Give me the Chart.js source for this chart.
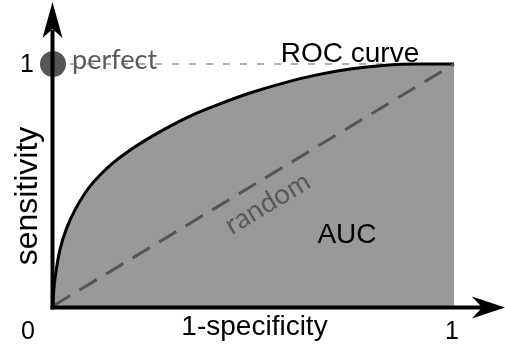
<!DOCTYPE html>
<html>
<head>
<meta charset="utf-8">
<script src="https://cdn.jsdelivr.net/npm/chart.js@4.4.1/dist/chart.umd.min.js"></script>
<style>
html,body{margin:0;padding:0;background:#fff;}
#wrap{width:505px;height:352px;position:relative;}
</style>
</head>
<body>
<div id="wrap"><canvas id="c"></canvas></div>
<script>
// ROC curve (x = 1-specificity, y = sensitivity)
const rocX = [0, 0.002, 0.007, 0.017, 0.035, 0.08, 0.135, 0.2, 0.274, 0.342, 0.416, 0.491, 0.574, 0.658, 0.741, 0.823, 0.908, 1.0];
const rocY = [0, 0.066, 0.136, 0.231, 0.326, 0.467, 0.570, 0.653, 0.727, 0.785, 0.835, 0.880, 0.921, 0.955, 0.979, 0.994, 1.0, 1.0];
// random classifier diagonal
const randomX = [0, 1];
const randomY = [0, 1];
// perfect classifier point and its guide line
const perfectX = [0, 1];
const perfectY = [1, 1];
// tick labels and axis titles
const xTickValues = [0, 1];
const xTickLabels = ["0", "1"];
const yTickValues = [1];
const yTickLabels = ["1"];
const xTitle = "1-specificity";
const yTitle = "sensitivity";
const curveLabel = "ROC curve";
const areaLabel = "AUC";
const randomLabel = "random";
const perfectLabel = "perfect";

const toPts = (xs, ys) => xs.map((x, i) => ({x: x, y: ys[i]}));

const annot = {
  id: 'annot',
  afterDatasetsDraw(chart) {
    const ctx = chart.ctx;
    const xs = chart.scales.x, ys = chart.scales.y;
    const x0 = xs.getPixelForValue(0), y0 = ys.getPixelForValue(0);
    const x1 = xs.getPixelForValue(1), y1 = ys.getPixelForValue(1);
    ctx.save();
    // axes
    ctx.strokeStyle = '#000';
    ctx.fillStyle = '#000';
    ctx.lineWidth = 4;
    ctx.lineCap = 'butt';
    const ax = x0 - 0.5, ay = y0 + 1.5;
    ctx.beginPath();
    ctx.moveTo(ax, ay + 2);
    ctx.lineTo(ax, 30);
    ctx.stroke();
    ctx.beginPath();
    ctx.moveTo(ax - 2, ay);
    ctx.lineTo(483, ay);
    ctx.stroke();
    // y arrowhead
    ctx.beginPath();
    ctx.moveTo(ax, 2);
    ctx.lineTo(ax + 10, 38);
    ctx.lineTo(ax, 29);
    ctx.lineTo(ax - 10, 38);
    ctx.closePath();
    ctx.fill();
    // x arrowhead
    ctx.beginPath();
    ctx.moveTo(505, ay);
    ctx.lineTo(472, ay - 11);
    ctx.lineTo(482, ay);
    ctx.lineTo(472, ay + 11);
    ctx.closePath();
    ctx.fill();

    // texts
    ctx.textBaseline = 'alphabetic';
    ctx.fillStyle = '#000';
    ctx.font = '25px "Liberation Sans", Arial, sans-serif';
    ctx.textAlign = 'center';
    xTickValues.forEach((v, i) => {
      const px = xs.getPixelForValue(v) + (v === 0 ? -25 : -2);
      ctx.fillText(xTickLabels[i], px, 339);
    });
    ctx.textAlign = 'right';
    yTickValues.forEach((v, i) => {
      ctx.fillText(yTickLabels[i], 34, ys.getPixelForValue(v) + 8);
    });
    ctx.textAlign = 'center';
    ctx.font = '28px "Liberation Sans", Arial, sans-serif';
    ctx.fillText(xTitle, (x0 + x1) / 2 + 1, 335);
    ctx.fillText(curveLabel, 350, 62);
    ctx.fillText(areaLabel, 347, 243);
    ctx.save();
    ctx.translate(37, 196);
    ctx.rotate(-Math.PI / 2);
    ctx.font = '32px "Liberation Sans", Arial, sans-serif';
    ctx.fillText(yTitle, 0, 0);
    ctx.restore();

    ctx.fillStyle = '#5a5a5a';
    ctx.font = '27px Lato, "Open Sans", sans-serif';
    ctx.textAlign = 'left';
    ctx.fillText(perfectLabel, 72, 69);
    const ang = Math.atan2(y1 - y0, x1 - x0);
    ctx.save();
    ctx.translate(268, 204);
    ctx.rotate(ang);
    ctx.textAlign = 'center';
    ctx.fillStyle = '#5a5a5a';
    ctx.font = '28px Lato, "Open Sans", sans-serif';
    ctx.fillText(randomLabel, 0, 8);
    ctx.restore();
    ctx.restore();
  }
};

new Chart(document.getElementById('c'), {
  type: 'line',
  data: {
    datasets: [
      {
        label: 'perfect guide',
        data: toPts(perfectX, perfectY),
        borderColor: '#b0b0b0',
        borderWidth: 2,
        borderDash: [7, 10],
        pointRadius: 0,
        fill: false,
        clip: false,
        order: 3
      },
      {
        label: 'ROC',
        data: toPts(rocX, rocY),
        borderColor: '#000',
        borderWidth: 3,
        backgroundColor: '#999999',
        fill: 'origin',
        cubicInterpolationMode: 'monotone',
        pointRadius: 0,
        clip: false,
        order: 2
      },
      {
        label: 'random',
        data: toPts(randomX, randomY),
        borderColor: '#555555',
        borderWidth: 3,
        borderDash: [20, 11],
        pointRadius: 0,
        fill: false,
        clip: false,
        order: 1
      },
      {
        label: 'perfect',
        data: toPts([perfectX[0]], [perfectY[0]]),
        borderWidth: 0,
        pointRadius: 13,
        pointBackgroundColor: '#555555',
        pointBorderWidth: 0,
        showLine: false,
        clip: false,
        order: 0
      }
    ]
  },
  options: {
    responsive: true,
    maintainAspectRatio: false,
    animation: false,
    layout: {padding: {left: 53, right: 51, top: 64, bottom: 46}},
    plugins: {legend: {display: false}, tooltip: {enabled: false}},
    scales: {
      x: {type: 'linear', min: 0, max: 1, display: false},
      y: {type: 'linear', min: 0, max: 1, display: false}
    }
  },
  plugins: [annot]
});
</script>
</body>
</html>
